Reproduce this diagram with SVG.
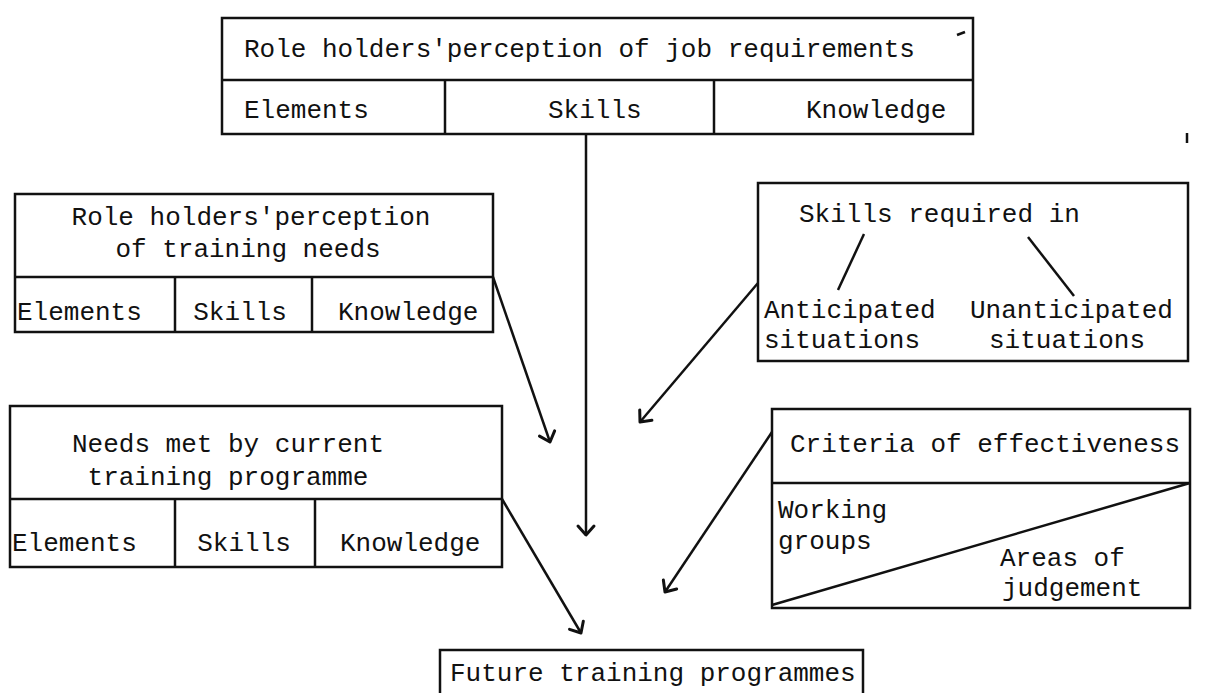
<svg xmlns="http://www.w3.org/2000/svg" width="1214" height="693" viewBox="0 0 1214 693">
<defs>
<style>
.b{fill:none;stroke:#111;stroke-width:2.5}
.l{stroke:#111;stroke-width:2.5;fill:none}
.t{font-family:"Liberation Mono","DejaVu Sans Mono",monospace;font-size:26px;fill:#111}
.c{text-anchor:middle}
</style>
<marker id="ah" markerUnits="userSpaceOnUse" markerWidth="24" markerHeight="24" refX="12" refY="12" orient="auto" viewBox="0 0 24 24">
<path d="M3,4 L12,12 L3,20" fill="none" stroke="#111" stroke-width="3" stroke-linecap="round" stroke-linejoin="round"/>
</marker>
</defs>
<rect width="1214" height="693" fill="#fff"/>

<g id="job-requirements">
<rect class="b" x="222" y="18" width="751" height="116"/>
<line class="l" x1="222" y1="80" x2="973" y2="80"/>
<line class="l" x1="445" y1="80" x2="445" y2="134"/>
<line class="l" x1="714" y1="80" x2="714" y2="134"/>
<line class="l" x1="957" y1="35" x2="965" y2="32"/>
<text class="t" x="244" y="57">Role holders'perception of job requirements</text>
<text class="t" x="244" y="118">Elements</text>
<text class="t" x="548" y="118">Skills</text>
<text class="t" x="806" y="118">Knowledge</text>
</g>

<g id="training-needs">
<rect class="b" x="15" y="194" width="478" height="138"/>
<line class="l" x1="15" y1="277" x2="493" y2="277"/>
<line class="l" x1="175" y1="277" x2="175" y2="332"/>
<line class="l" x1="312" y1="277" x2="312" y2="332"/>
<text class="t c" x="251" y="225">Role holders'perception</text>
<text class="t c" x="248" y="257">of training needs</text>
<text class="t" x="17" y="320">Elements</text>
<text class="t c" x="240" y="320">Skills</text>
<text class="t" x="338" y="320">Knowledge</text>
</g>

<g id="skills-required">
<rect class="b" x="758" y="183" width="430" height="178"/>
<line class="l" x1="1187" y1="133" x2="1187" y2="143"/>
<text class="t" x="799" y="222">Skills required in</text>
<line class="l" x1="864" y1="234" x2="838" y2="290"/>
<line class="l" x1="1028" y1="237" x2="1074" y2="296"/>
<text class="t" x="764" y="318">Anticipated</text>
<text class="t" x="970" y="318">Unanticipated</text>
<text class="t" x="764" y="348">situations</text>
<text class="t" x="989" y="348">situations</text>
</g>

<g id="current-programme">
<rect class="b" x="10" y="406" width="492" height="161"/>
<line class="l" x1="10" y1="499" x2="502" y2="499"/>
<line class="l" x1="175" y1="499" x2="175" y2="567"/>
<line class="l" x1="315" y1="499" x2="315" y2="567"/>
<text class="t c" x="228" y="452">Needs met by current</text>
<text class="t c" x="228" y="485">training programme</text>
<text class="t" x="12" y="551">Elements</text>
<text class="t c" x="244" y="551">Skills</text>
<text class="t" x="340" y="551">Knowledge</text>
</g>

<g id="criteria">
<rect class="b" x="772" y="409" width="418" height="199"/>
<line class="l" x1="772" y1="483" x2="1190" y2="483"/>
<line class="l" x1="772" y1="605" x2="1190" y2="483" stroke-width="3.5"/>
<text class="t c" x="985" y="452">Criteria of effectiveness</text>
<text class="t" x="778" y="518">Working</text>
<text class="t" x="778" y="549">groups</text>
<text class="t" x="1000" y="566">Areas of</text>
<text class="t" x="1002" y="596">judgement</text>
</g>

<g id="future-programmes">
<path class="l" d="M440,693 L440,650 L863,650 L863,693"/>
<text class="t" x="450" y="681">Future training programmes</text>
</g>

<g id="connectors">
<line class="l" x1="586" y1="134" x2="586" y2="535" marker-end="url(#ah)"/>
<line class="l" x1="493" y1="277" x2="550" y2="442" marker-end="url(#ah)"/>
<line class="l" x1="758" y1="283" x2="640" y2="422" marker-end="url(#ah)"/>
<line class="l" x1="502" y1="499" x2="581" y2="633" marker-end="url(#ah)"/>
<line class="l" x1="772" y1="432" x2="665" y2="592" marker-end="url(#ah)"/>
</g>
</svg>
